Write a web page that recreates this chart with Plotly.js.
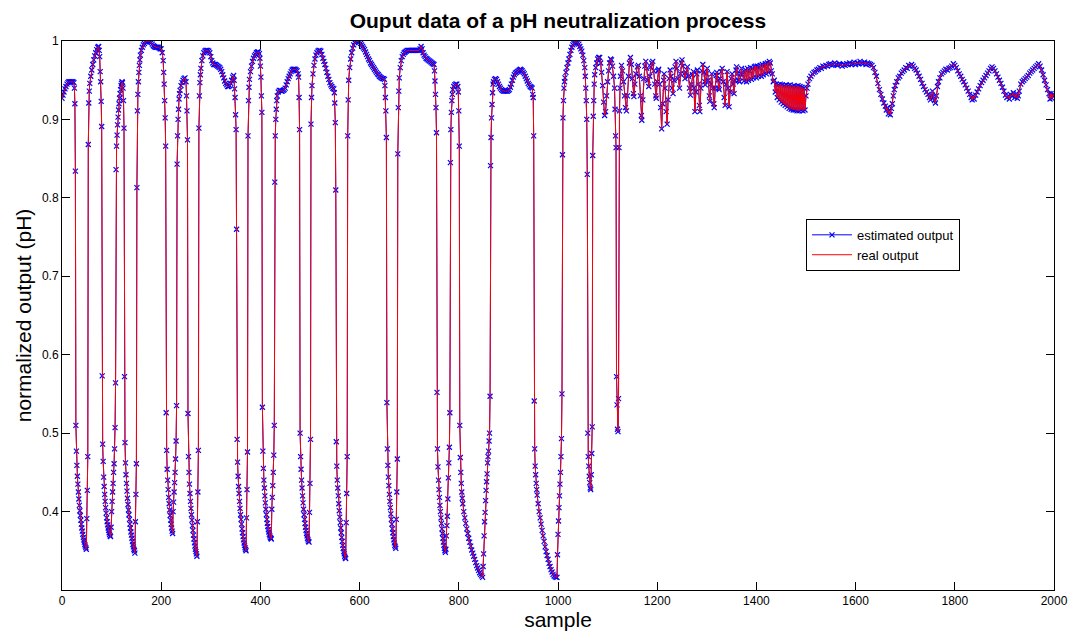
<!DOCTYPE html>
<html>
<head>
<meta charset="utf-8">
<script src="https://cdn.plot.ly/plotly-3.0.1.min.js"></script>
<style>
  html, body { margin: 0; padding: 0; background: #ffffff; }
  #chart { width: 1072px; height: 637px; }
</style>
</head>
<body>
<div id="chart"></div>
<script>
// ---- data: [sample, normalized pH] ----
const segA = [[0,0.927],[2,0.931],[4,0.935],[6,0.939],[8,0.942],[10,0.945],[12,0.947],[14,0.948],[16,0.948],[18,0.948],[20,0.948],[22,0.948],[24,0.947],[25,0.94],[26,0.92],[27,0.834],[28,0.51],[29,0.477],[30,0.459],[31,0.445],[32,0.435],[33,0.425],[34,0.416],[35,0.408],[36,0.401],[37,0.395],[38,0.389],[39,0.384],[40,0.379],[41,0.375],[42,0.371],[43,0.367],[44,0.364],[45,0.361],[46,0.358],[47,0.356],[48,0.354],[49,0.352],[50,0.391],[51,0.427],[52,0.47],[53,0.868],[54,0.921],[55,0.936],[56,0.946],[58,0.955],[60,0.963],[62,0.97],[64,0.976],[66,0.981],[68,0.985],[70,0.989],[72,0.992],[74,0.993],[75,0.988],[76,0.98],[77,0.961],[78,0.948],[79,0.923],[80,0.891],[81,0.573],[82,0.486],[83,0.464],[84,0.444],[85,0.432],[86,0.422],[87,0.413],[88,0.405],[89,0.398],[90,0.392],[91,0.387],[92,0.383],[93,0.379],[94,0.376],[95,0.373],[96,0.371],[97,0.369],[98,0.368],[99,0.38],[100,0.4],[101,0.413],[102,0.425],[103,0.436],[104,0.45],[105,0.461],[106,0.48],[107,0.507],[108,0.564],[109,0.836],[110,0.866],[111,0.88],[112,0.893],[113,0.903],[114,0.912],[115,0.92],[116,0.927],[117,0.933],[118,0.938],[119,0.943],[120,0.946],[121,0.948],[122,0.947],[123,0.94],[124,0.924],[125,0.889]];
const segB = [[126,0.572],[127,0.488],[128,0.462],[129,0.447],[130,0.436],[131,0.426],[132,0.417],[133,0.409],[134,0.402],[135,0.396],[136,0.39],[137,0.384],[138,0.379],[139,0.374],[140,0.37],[141,0.366],[142,0.362],[143,0.358],[144,0.355],[145,0.352],[146,0.35],[147,0.347],[148,0.387],[149,0.422],[150,0.461],[151,0.813],[152,0.911],[153,0.932],[154,0.948],[155,0.96],[156,0.969],[157,0.976],[158,0.982],[160,0.988],[162,0.992],[164,0.995],[166,0.997],[168,0.999],[170,1.0],[172,1.0],[174,1.0],[176,1.0],[178,0.999],[180,0.998],[182,0.996],[184,0.994],[186,0.993],[188,0.992],[190,0.992],[192,0.992],[194,0.992],[196,0.991],[198,0.99],[200,0.99],[202,0.985],[204,0.975],[205,0.96],[206,0.945],[207,0.924],[208,0.902],[209,0.866],[210,0.526],[211,0.478],[212,0.454],[213,0.44],[214,0.428],[215,0.418],[216,0.41],[217,0.402],[218,0.395],[219,0.389],[220,0.384],[221,0.379],[222,0.375],[223,0.372],[224,0.4],[225,0.412],[226,0.425],[227,0.437],[228,0.45],[229,0.467],[230,0.49],[231,0.535],[232,0.843],[233,0.879],[234,0.9],[235,0.913],[236,0.926],[237,0.933],[238,0.937],[240,0.943],[242,0.947],[244,0.95],[246,0.952],[248,0.953],[250,0.948],[251,0.93],[252,0.911],[253,0.874],[254,0.525],[255,0.47],[256,0.45],[257,0.435],[258,0.423],[259,0.413],[260,0.404],[261,0.396],[262,0.389],[263,0.382],[264,0.376],[265,0.37],[266,0.365],[267,0.36],[268,0.356],[269,0.352],[270,0.349],[271,0.346],[272,0.343],[273,0.387],[274,0.425],[275,0.478]];
const segC = [[276,0.889],[277,0.93],[278,0.947],[279,0.957],[280,0.965],[282,0.975],[284,0.981],[286,0.985],[288,0.987],[290,0.988],[292,0.988],[294,0.988],[296,0.987],[298,0.985],[300,0.98],[302,0.975],[304,0.972],[306,0.97],[308,0.97],[310,0.97],[312,0.969],[314,0.968],[316,0.967],[318,0.966],[320,0.964],[322,0.961],[324,0.957],[326,0.953],[328,0.949],[330,0.946],[332,0.944],[334,0.942],[336,0.942],[338,0.943],[340,0.946],[342,0.95],[344,0.954],[346,0.956],[347,0.95],[348,0.939],[349,0.928],[350,0.906],[351,0.887],[352,0.76],[353,0.492],[354,0.463],[355,0.445],[356,0.432],[357,0.423],[358,0.413],[359,0.404],[360,0.396],[361,0.39],[362,0.384],[363,0.378],[364,0.373],[365,0.368],[366,0.364],[367,0.36],[368,0.357],[369,0.354],[370,0.352],[371,0.35],[372,0.392],[373,0.428],[374,0.476],[375,0.879],[376,0.924],[377,0.941],[378,0.951],[380,0.961],[382,0.968],[384,0.974],[386,0.978],[388,0.981],[390,0.983],[392,0.985],[394,0.986],[396,0.986],[398,0.984],[399,0.978],[400,0.968],[401,0.954],[402,0.93],[403,0.909],[404,0.533],[405,0.477],[406,0.455],[407,0.44],[408,0.43],[409,0.42],[410,0.411],[411,0.403],[412,0.396],[413,0.39],[414,0.385],[415,0.381],[416,0.377],[417,0.374],[418,0.371],[419,0.369],[420,0.367],[421,0.366],[422,0.365],[423,0.403],[424,0.418],[425,0.433],[426,0.45],[427,0.472],[428,0.51],[429,0.82],[430,0.879],[431,0.9]];
const segD = [[432,0.913],[433,0.924],[434,0.93],[436,0.935],[438,0.937],[440,0.937],[442,0.936],[444,0.936],[446,0.937],[448,0.938],[450,0.94],[452,0.944],[454,0.948],[456,0.952],[458,0.955],[460,0.958],[462,0.961],[464,0.963],[466,0.964],[468,0.964],[470,0.964],[472,0.963],[474,0.962],[476,0.958],[477,0.954],[478,0.928],[479,0.887],[480,0.5],[481,0.47],[482,0.454],[483,0.44],[484,0.43],[485,0.42],[486,0.411],[487,0.403],[488,0.396],[489,0.39],[490,0.385],[491,0.38],[492,0.376],[493,0.372],[494,0.369],[495,0.366],[496,0.364],[497,0.362],[498,0.361],[499,0.399],[500,0.436],[501,0.492],[502,0.894],[503,0.928],[504,0.943],[506,0.958],[508,0.969],[510,0.977],[512,0.982],[514,0.985],[516,0.987],[518,0.988],[520,0.988],[522,0.987],[524,0.983],[526,0.978],[528,0.974],[530,0.97],[532,0.965],[534,0.96],[536,0.955],[538,0.951],[540,0.947],[542,0.944],[544,0.942],[546,0.94],[548,0.939],[549,0.934],[550,0.921],[551,0.896],[552,0.81],[553,0.489],[554,0.458],[555,0.44],[556,0.43],[557,0.42],[558,0.41],[559,0.401],[560,0.393],[561,0.386],[562,0.379],[563,0.373],[564,0.367],[565,0.362],[566,0.357],[567,0.353],[568,0.349],[569,0.346],[570,0.343],[571,0.341],[572,0.34],[573,0.386],[574,0.423],[575,0.47]];
const segE = [[576,0.879],[577,0.925],[578,0.95],[580,0.966],[582,0.977],[584,0.985],[586,0.991],[588,0.995],[590,0.998],[592,0.999],[594,1.0],[596,1.0],[598,1.0],[600,0.999],[602,0.997],[604,0.995],[606,0.993],[608,0.991],[610,0.989],[612,0.986],[614,0.983],[616,0.98],[618,0.977],[620,0.975],[622,0.972],[624,0.97],[626,0.968],[628,0.966],[630,0.964],[632,0.962],[634,0.96],[636,0.958],[638,0.957],[640,0.955],[642,0.954],[644,0.953],[646,0.952],[648,0.952],[650,0.951],[651,0.943],[652,0.928],[653,0.911],[654,0.877],[655,0.539],[656,0.48],[657,0.459],[658,0.444],[659,0.433],[660,0.422],[661,0.413],[662,0.405],[663,0.397],[664,0.39],[665,0.384],[666,0.378],[667,0.373],[668,0.368],[669,0.364],[670,0.36],[671,0.357],[672,0.355],[673,0.353],[674,0.39],[675,0.425],[676,0.467],[677,0.856],[678,0.915],[679,0.936],[680,0.953],[682,0.966],[684,0.975],[686,0.98],[688,0.983],[690,0.985],[692,0.986],[694,0.987],[696,0.988],[698,0.988],[700,0.988],[702,0.988],[704,0.988],[706,0.988],[708,0.988],[710,0.988],[712,0.988],[714,0.988],[716,0.988],[718,0.988],[720,0.988],[722,0.99],[724,0.993],[726,0.99],[728,0.985],[730,0.982],[732,0.98],[734,0.978],[736,0.977],[738,0.976],[740,0.975],[742,0.974],[744,0.973],[746,0.972],[748,0.971],[750,0.97],[751,0.962],[752,0.949],[753,0.932],[754,0.915],[755,0.883],[756,0.552],[757,0.48],[758,0.457],[759,0.44],[760,0.428],[761,0.418],[762,0.408],[763,0.4],[764,0.392],[765,0.385],[766,0.378],[767,0.372],[768,0.366],[769,0.361],[770,0.357],[771,0.353],[772,0.35],[773,0.348],[774,0.352],[775,0.369]];
const segF = [[776,0.382],[777,0.394],[778,0.416],[779,0.443],[780,0.462],[781,0.482],[782,0.526],[783,0.845],[784,0.887],[785,0.909],[786,0.924],[787,0.932],[788,0.938],[790,0.942],[792,0.944],[794,0.945],[796,0.945],[798,0.942],[799,0.935],[800,0.911],[801,0.866],[802,0.51],[803,0.469],[804,0.45],[805,0.436],[806,0.425],[807,0.417],[808,0.41],[810,0.4],[812,0.392],[814,0.385],[816,0.378],[818,0.372],[820,0.366],[822,0.361],[824,0.356],[826,0.351],[828,0.347],[830,0.343],[832,0.339],[834,0.335],[836,0.331],[838,0.328],[840,0.325],[842,0.322],[844,0.32],[846,0.318],[848,0.316],[849,0.33],[850,0.346],[851,0.369],[852,0.387],[853,0.399],[854,0.414],[855,0.427],[856,0.438],[857,0.448],[858,0.462],[859,0.47],[860,0.477],[861,0.49],[862,0.5],[863,0.547],[864,0.841],[865,0.877],[866,0.902],[867,0.919],[868,0.934],[869,0.945],[870,0.948],[872,0.951],[874,0.952],[876,0.951],[878,0.948],[880,0.945],[882,0.942],[884,0.94],[886,0.938],[888,0.937],[890,0.936],[892,0.936],[894,0.936],[896,0.936],[898,0.936],[900,0.937],[902,0.938],[904,0.941],[906,0.945],[908,0.95],[910,0.954],[912,0.957],[914,0.959],[916,0.96],[918,0.961],[920,0.962],[922,0.963],[924,0.964],[926,0.963],[928,0.962],[930,0.96],[932,0.958],[934,0.955],[936,0.952],[938,0.949],[940,0.946],[942,0.944],[944,0.942],[946,0.941],[948,0.94],[949,0.932],[950,0.928],[951,0.879],[952,0.541],[953,0.48],[954,0.458],[955,0.447],[956,0.436],[957,0.428],[958,0.421],[960,0.41],[962,0.4],[964,0.392],[966,0.384],[968,0.376],[970,0.369],[972,0.362],[974,0.355],[976,0.349],[978,0.344],[980,0.339],[982,0.334],[984,0.33],[986,0.326],[988,0.323],[990,0.32],[992,0.318],[994,0.317],[996,0.316],[998,0.316]];
const segG = [[999,0.345],[1000,0.371],[1001,0.388],[1002,0.405],[1003,0.42],[1004,0.435],[1005,0.45],[1006,0.47],[1007,0.493],[1008,0.55],[1009,0.855],[1010,0.902],[1011,0.924],[1012,0.94],[1013,0.948],[1014,0.953],[1016,0.96],[1018,0.966],[1020,0.972],[1022,0.977],[1024,0.983],[1026,0.988],[1028,0.992],[1030,0.995],[1032,0.997],[1034,0.998],[1036,0.999],[1038,0.999],[1040,0.998],[1042,0.996],[1044,0.993],[1046,0.99],[1048,0.987],[1050,0.982],[1052,0.975],[1054,0.966],[1055,0.955],[1056,0.94],[1057,0.924],[1058,0.9],[1059,0.83],[1060,0.5],[1061,0.47],[1062,0.458],[1063,0.445],[1064,0.437],[1065,0.43],[1066,0.428],[1067,0.447],[1068,0.474],[1069,0.508],[1070,0.854],[1071,0.904],[1072,0.924],[1073,0.945],[1074,0.957],[1076,0.966],[1078,0.972],[1080,0.977],[1082,0.979],[1084,0.979],[1086,0.972],[1088,0.96],[1090,0.943],[1092,0.922],[1094,0.905],[1096,0.91],[1098,0.93],[1100,0.948],[1102,0.962],[1104,0.972],[1106,0.977],[1108,0.976],[1110,0.968],[1112,0.955],[1114,0.94],[1115,0.913],[1116,0.879],[1117,0.864],[1118,0.572],[1119,0.536],[1120,0.505],[1121,0.502],[1122,0.544],[1123,0.864],[1124,0.911],[1125,0.94],[1126,0.955]];
const segH = [[1128,0.969],[1130,0.962],[1132,0.948],[1134,0.93],[1136,0.915],[1138,0.911],[1140,0.93],[1142,0.955],[1144,0.972],[1146,0.979],[1148,0.97],[1150,0.952],[1152,0.933],[1153,0.929],[1155,0.945],[1157,0.958],[1160,0.967],[1162,0.969],[1164,0.955],[1166,0.93],[1168,0.905],[1169,0.899],[1171,0.925],[1173,0.952],[1175,0.968],[1177,0.974],[1179,0.965],[1181,0.95],[1183,0.942],[1185,0.955],[1187,0.967],[1189,0.972],[1191,0.974],[1193,0.962],[1195,0.945],[1197,0.93],[1198,0.927],[1200,0.948],[1202,0.962],[1203,0.964],[1205,0.945],[1207,0.915],[1209,0.888],[1211,0.92],[1213,0.95],[1214,0.958],[1216,0.94],[1218,0.91],[1220,0.894],[1222,0.925],[1224,0.952],[1226,0.963],[1228,0.955],[1230,0.94],[1232,0.933],[1234,0.95],[1236,0.967],[1238,0.974],[1240,0.965],[1242,0.952],[1245,0.94],[1247,0.958],[1249,0.972],[1250,0.976],[1252,0.968],[1254,0.958],[1256,0.952],[1258,0.96],[1261,0.967],[1263,0.955],[1265,0.94],[1267,0.931],[1269,0.945],[1271,0.957],[1273,0.961],[1274,0.94],[1276,0.91],[1278,0.935],[1280,0.958],[1281,0.963],[1283,0.945],[1285,0.918],[1286,0.91],[1288,0.94],[1290,0.962],[1292,0.97],[1294,0.96],[1296,0.948],[1297,0.944],[1299,0.958],[1301,0.965],[1303,0.95],[1305,0.93],[1306,0.923],[1308,0.945],[1310,0.958],[1312,0.94],[1314,0.92],[1315,0.915],[1317,0.94],[1319,0.956],[1320,0.96],[1322,0.95],[1324,0.94],[1325,0.938],[1327,0.952],[1329,0.961],[1331,0.965],[1333,0.948],[1335,0.928],[1337,0.918],[1339,0.945],[1341,0.961],[1343,0.94],[1345,0.916],[1347,0.935],[1349,0.952],[1351,0.958],[1353,0.945],[1355,0.933],[1357,0.95],[1359,0.963],[1360,0.967],[1362,0.958],[1364,0.95],[1366,0.948],[1368,0.958],[1370,0.965],[1372,0.957],[1375,0.949]];
const segI = [[1378,0.963],[1380,0.948],[1382,0.965],[1384,0.95],[1386,0.962],[1388,0.966],[1390,0.951],[1392,0.965],[1394,0.953],[1396,0.967],[1398,0.968],[1400,0.953],[1402,0.968],[1404,0.955],[1406,0.966],[1408,0.969],[1410,0.955],[1412,0.97],[1414,0.957],[1416,0.968],[1418,0.971],[1420,0.958],[1422,0.972],[1424,0.96],[1426,0.974],[1428,0.972],[1430,0.962],[1432,0.958],[1434,0.948],[1436,0.95],[1438,0.935],[1440,0.945],[1442,0.928],[1444,0.944],[1446,0.925],[1448,0.945],[1450,0.922],[1452,0.944],[1454,0.92],[1456,0.943],[1458,0.918],[1460,0.944],[1462,0.916],[1464,0.943],[1466,0.914],[1468,0.944],[1470,0.913],[1472,0.942],[1474,0.912],[1476,0.943],[1478,0.912],[1480,0.942],[1482,0.911],[1484,0.943],[1486,0.911],[1488,0.942],[1490,0.912],[1492,0.941],[1494,0.911],[1496,0.94],[1498,0.912],[1500,0.93],[1502,0.94]];
const segJ = [[1504,0.945],[1507,0.952],[1510,0.955],[1513,0.958],[1516,0.96],[1519,0.961],[1522,0.963],[1525,0.964],[1528,0.966],[1531,0.965],[1534,0.968],[1537,0.967],[1540,0.969],[1543,0.968],[1546,0.97],[1549,0.971],[1552,0.969],[1555,0.97],[1558,0.972],[1561,0.97],[1564,0.969],[1567,0.971],[1570,0.97],[1573,0.968],[1576,0.97],[1579,0.969],[1582,0.971],[1585,0.97],[1588,0.972],[1591,0.97],[1594,0.971],[1597,0.973],[1600,0.97],[1603,0.972],[1606,0.971],[1609,0.974],[1612,0.972],[1615,0.971],[1618,0.973],[1621,0.97],[1624,0.972],[1627,0.971],[1630,0.97],[1633,0.969],[1636,0.966],[1639,0.96],[1642,0.955],[1645,0.946],[1648,0.938],[1651,0.932],[1654,0.926],[1657,0.921],[1660,0.917],[1662,0.912],[1664,0.915],[1666,0.907],[1668,0.911],[1670,0.906],[1672,0.914],[1674,0.92],[1676,0.93],[1678,0.938],[1680,0.943],[1683,0.948],[1686,0.953],[1689,0.955],[1692,0.959],[1695,0.961],[1698,0.963],[1701,0.966],[1704,0.965],[1707,0.969],[1710,0.968],[1713,0.97],[1716,0.968],[1719,0.965],[1722,0.963],[1725,0.959],[1728,0.955],[1731,0.951],[1734,0.946],[1737,0.942],[1740,0.938],[1743,0.935],[1746,0.932],[1749,0.928],[1751,0.925],[1753,0.93],[1755,0.936],[1757,0.929],[1759,0.924],[1761,0.921],[1763,0.93],[1765,0.942],[1767,0.948],[1770,0.953],[1773,0.958],[1776,0.96],[1779,0.962],[1782,0.964],[1785,0.963],[1788,0.965],[1791,0.966],[1794,0.968],[1797,0.971],[1800,0.969],[1803,0.966],[1806,0.962],[1809,0.958],[1812,0.955],[1815,0.951],[1818,0.948],[1821,0.944],[1824,0.94],[1827,0.936],[1830,0.932],[1833,0.928],[1835,0.925],[1837,0.93],[1839,0.926],[1842,0.931],[1845,0.935],[1848,0.939],[1851,0.943],[1854,0.947],[1857,0.95],[1860,0.953],[1863,0.956],[1866,0.959],[1869,0.962],[1872,0.965],[1875,0.967],[1878,0.965],[1881,0.962],[1884,0.958],[1887,0.954],[1890,0.95],[1893,0.946],[1896,0.941],[1899,0.936],[1902,0.931],[1905,0.928],[1908,0.93],[1910,0.926],[1912,0.932],[1915,0.93],[1918,0.934],[1921,0.928],[1924,0.933],[1926,0.927],[1928,0.93],[1930,0.936],[1933,0.945],[1936,0.948],[1939,0.95],[1942,0.952],[1945,0.954],[1948,0.956],[1951,0.959],[1954,0.961],[1957,0.963],[1960,0.965],[1963,0.967],[1966,0.969],[1969,0.971],[1972,0.968],[1975,0.963],[1978,0.957],[1981,0.95],[1984,0.944],[1987,0.938],[1990,0.933],[1992,0.926],[1994,0.933],[1996,0.927],[1998,0.932],[2000,0.93]];

const seriesNames = ["estimated output", "real output"];
const titleText = "Ouput data of a pH neutralization process";
const xLabel = "sample";
const yLabel = "normalized output (pH)";
const xTicks = [0, 200, 400, 600, 800, 1000, 1200, 1400, 1600, 1800, 2000];
const yTicks = [0.4, 0.5, 0.6, 0.7, 0.8, 0.9, 1];

const allPts = [].concat(segA, segB, segC, segD, segE, segF, segG, segH, segI, segJ);
const sample = allPts.map(p => p[0]);
const realOutput = allPts.map(p => p[1]);
const estimatedOutput = realOutput.slice(); // estimate overlaps the real output throughout

const FONT = "Liberation Sans, Arial, Helvetica, sans-serif";

const traces = [
  {
    x: sample, y: estimatedOutput, name: seriesNames[0],
    type: "scatter", mode: "lines+markers",
    line: { color: "#0000ff", width: 1 },
    marker: { symbol: "x-thin", size: 5, color: "#0000ff", line: { color: "#0000ff", width: 1.2 } }
  },
  {
    x: sample, y: realOutput, name: seriesNames[1],
    type: "scatter", mode: "lines",
    line: { color: "#ff0000", width: 1 }
  }
];

const axisCommon = {
  showline: true, linecolor: "#000000", linewidth: 1, mirror: "ticks",
  ticks: "inside", ticklen: 8, tickwidth: 1, tickcolor: "#000000",
  showgrid: false, zeroline: false,
  tickfont: { family: FONT, size: 12, color: "#000000" }
};

const layout = {
  width: 1072, height: 637,
  margin: { l: 62, r: 18, t: 41, b: 47 },
  paper_bgcolor: "#ffffff", plot_bgcolor: "#ffffff",
  font: { family: FONT, color: "#000000" },
  title: {
    text: "<b>" + titleText + "</b>",
    font: { family: FONT, size: 21, color: "#000000" },
    x: 0.5205, xanchor: "center", y: 0.968, yanchor: "middle"
  },
  xaxis: Object.assign({}, axisCommon, {
    range: [0, 2000], tickvals: xTicks,
    title: { text: xLabel, font: { family: FONT, size: 21, color: "#000000" }, standoff: 4 }
  }),
  yaxis: Object.assign({}, axisCommon, {
    range: [0.3, 1], tickvals: yTicks, ticktext: yTicks.map(String),
    title: { text: yLabel, font: { family: FONT, size: 21, color: "#000000" }, standoff: 4 }
  }),
  showlegend: true,
  legend: {
    x: 0.75, y: 0.676, xanchor: "left", yanchor: "top",
    bgcolor: "#ffffff", bordercolor: "#000000", borderwidth: 1,
    font: { family: FONT, size: 13, color: "#000000" },
    itemwidth: 40,
    tracegroupgap: 0
  },
  hovermode: false
};

Plotly.newPlot("chart", traces, layout, { displayModeBar: false, staticPlot: true });
</script>
</body>
</html>
